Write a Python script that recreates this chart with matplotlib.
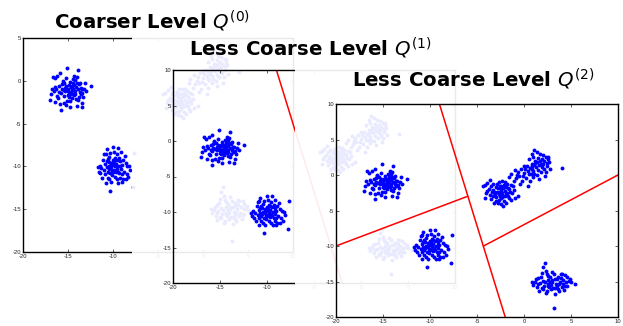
import numpy as np
import matplotlib
matplotlib.use("Agg")
import matplotlib.pyplot as plt
from matplotlib.patches import Rectangle

plt.rcParams["axes.unicode_minus"] = False
plt.rcParams["mathtext.fontset"] = "dejavusans"

# ---- point clusters (x, y) ----
cluster_a = [(-15.1, 1.5), (-13.9, 1.3), (-16.2, 0.6), (-15.9, 0.9), (-14.5, 0.2), (-14.2, 0.1),
             (-16.5, 0.3), (-15.6, -0.2), (-14.9, -0.5), (-14.0, -0.3), (-13.6, -0.8), (-12.5, -0.6),
             (-13.2, -1.0), (-15.3, -1.2), (-16.0, -1.3), (-16.9, -1.5), (-17.0, -2.2), (-15.8, -3.4),
             (-14.8, -3.1), (-13.5, -3.1), (-15.5, -2.6), (-14.6, -2.0), (-14.3, -1.7), (-13.8, -1.9),
             (-16.3, -1.0), (-15.0, -0.9), (-14.4, -1.1), (-15.2, -0.6), (-14.7, -1.5), (-13.4, -1.4),
             (-16.6, -1.2), (-15.4, -1.8), (-14.1, -0.7), (-13.9, -2.3), (-15.7, -0.4), (-14.9, -1.3),
             (-16.1, -2.0), (-13.7, -0.2), (-14.5, -0.9), (-15.1, -2.4), (-14.2, -1.6), (-15.9, -2.7),
             (-16.4, -0.7), (-13.3, -1.9), (-14.0, -2.9), (-15.6, 0.0), (-14.8, -0.1), (-15.3, -0.8),
             (-13.0, -1.2), (-16.8, -0.9), (-14.6, -1.0), (-15.0, -1.7), (-13.6, -1.6), (-14.3, -0.5),
             (-16.2, -1.8), (-15.5, -1.1), (-14.1, -2.1), (-13.8, -0.4), (-15.8, -1.4), (-14.4, -0.3),
             (-14.9, -1.9), (-15.2, -2.8), (-13.5, -0.9), (-16.0, -0.6), (-14.7, -1.3), (-13.1, -0.3),
             (-16.7, 0.5), (-14.0, 0.4), (-15.4, -0.3), (-14.6, -0.6), (-14.2, -1.2), (-13.9, -1.0),
             (-15.0, -1.2), (-14.5, -1.6), (-15.7, -1.0), (-14.8, -2.4), (-13.4, -2.6), (-16.4, -2.5),
             (-14.3, 0.6), (-15.2, 0.3), (-13.7, -1.3), (-14.7, -0.7)]

cluster_b = [(-10.3, -12.9), (-7.8, -12.4), (-7.7, -8.4), (-11.6, -10.6), (-10.0, -7.7), (-9.5, -7.8),
             (-9.1, -8.3), (-10.7, -8.0), (-11.0, -8.6), (-10.4, -8.9), (-9.8, -9.0), (-9.2, -9.4),
             (-8.6, -9.6), (-8.2, -10.0), (-8.8, -10.6), (-8.3, -11.2), (-9.0, -11.8), (-9.6, -11.5),
             (-10.1, -11.0), (-10.8, -11.9), (-11.2, -11.3), (-11.3, -10.2), (-10.9, -9.7), (-10.5, -9.5),
             (-10.2, -10.1), (-9.9, -10.4), (-9.4, -10.0), (-9.7, -9.7), (-10.0, -9.3), (-10.6, -10.6),
             (-9.3, -10.8), (-8.9, -9.2), (-9.6, -8.6), (-10.3, -10.8), (-9.1, -10.3), (-10.7, -10.1),
             (-9.8, -11.2), (-8.5, -10.9), (-11.5, -9.9), (-10.4, -11.5), (-9.2, -11.3), (-8.7, -8.8),
             (-10.9, -10.9), (-9.5, -9.3), (-10.1, -9.8), (-9.9, -8.3), (-11.1, -9.2), (-8.4, -9.9),
             (-10.6, -9.1), (-9.0, -9.8), (-9.7, -10.7), (-10.2, -11.8), (-11.4, -10.8), (-8.1, -10.4),
             (-10.5, -10.3), (-9.3, -9.0), (-9.8, -10.0), (-10.0, -10.6), (-9.4, -11.9), (-11.7, -10.1),
             (-8.6, -11.5), (-10.8, -8.5), (-10.2, -9.6), (-9.6, -10.3), (-10.4, -10.0), (-9.9, -9.6),
             (-10.1, -10.4), (-9.5, -10.6), (-10.7, -9.4), (-9.2, -9.9), (-10.3, -8.4), (-11.0, -10.4),
             (-9.0, -10.9), (-10.6, -11.3), (-8.9, -11.5), (-9.7, -9.2)]

cluster_c = [(-4.4, -1.5), (-4.2, -1.4), (-3.9, -1.1), (-3.6, -0.7), (-3.3, -1.3), (-3.7, -2.0),
             (-3.4, -2.4), (-3.9, -2.3), (-4.1, -3.2), (-3.5, -3.4), (-3.2, -3.9), (-3.0, -3.6),
             (-2.8, -4.0), (-2.4, -3.3), (-2.2, -4.4), (-1.9, -3.9), (-1.4, -3.5), (-1.0, -3.2),
             (-1.3, -2.6), (-1.6, -2.0), (-1.2, -1.6), (-1.8, -1.2), (-2.3, -0.9), (-2.7, -1.0),
             (-3.0, -1.7), (-2.6, -1.5), (-2.1, -1.4), (-2.5, -2.0), (-2.0, -2.2), (-2.9, -2.4),
             (-2.3, -2.6), (-1.7, -2.9), (-2.6, -2.9), (-3.1, -2.7), (-2.0, -3.0), (-2.7, -3.5),
             (-1.5, -2.4), (-2.2, -1.8), (-2.8, -1.9), (-3.3, -2.1), (-1.9, -1.7), (-2.4, -2.3),
             (-1.1, -2.1), (-0.6, -3.0), (-3.6, -2.8), (-2.5, -4.1), (-1.8, -2.5), (-2.1, -3.6),
             (-3.0, -3.1), (-1.4, -1.4), (-2.9, -1.3), (-3.5, -1.6), (-2.6, -2.4), (-2.0, -1.0),
             (-1.6, -3.3), (-4.0, -2.6), (-2.3, -3.1), (-3.2, -2.4), (-2.4, -1.6), (-1.9, -2.7),
             (-2.7, -2.7), (-3.3, -2.9), (-1.7, -1.9), (-2.2, -2.9)]

cluster_d = [(0.5, 2.2), (0.9, 2.9), (1.1, 3.5), (1.4, 3.2), (1.7, 2.9), (2.0, 2.8), (2.3, 2.5),
             (2.6, 2.6), (1.9, 2.2), (1.5, 2.4), (1.2, 2.0), (0.8, 1.6), (0.3, 1.3), (0.0, 1.2),
             (-0.3, 0.9), (-0.6, 0.4), (-1.0, 0.7), (-1.4, 0.2), (-1.6, -0.3), (-0.9, -0.4),
             (-0.5, -0.2), (0.0, 0.3), (0.4, 0.6), (0.7, 0.1), (1.0, 0.6), (1.3, 1.1), (1.6, 1.4),
             (2.0, 1.6), (2.4, 1.3), (2.7, 1.9), (2.1, 0.9), (1.8, 0.4), (1.4, 0.0), (1.0, -0.3),
             (0.6, -0.8), (0.2, -0.4), (-0.2, -0.9), (-0.4, -1.3), (-1.1, -0.8), (0.9, 1.2),
             (1.2, 1.7), (0.6, 1.0), (1.9, 1.1), (1.5, 0.7), (2.3, 0.4), (0.1, 0.8), (1.7, 2.0),
             (2.5, 2.2), (1.1, 0.2), (-0.7, 0.0), (4.0, 1.0), (2.8, 0.8), (0.4, -1.5), (2.2, -0.2),
             (1.0, 2.5), (1.6, -0.6), (-0.1, -0.1), (0.8, 0.8), (1.4, 1.9), (2.1, 2.0), (1.8, 1.5),
             (1.1, 1.4), (0.5, 0.2), (2.4, 1.7)]

cluster_e = [(2.2, -12.4), (2.0, -13.0), (2.3, -13.5), (3.0, -13.6), (1.9, -13.8), (1.5, -14.5),
             (1.3, -14.7), (0.9, -15.0), (1.0, -15.5), (1.4, -15.8), (1.6, -16.3), (2.0, -16.0),
             (2.4, -16.4), (2.9, -16.1), (3.3, -16.7), (3.6, -16.1), (4.0, -15.8), (4.3, -16.2),
             (4.6, -15.6), (5.0, -15.1), (5.4, -15.3), (4.9, -14.6), (4.4, -14.1), (4.0, -14.0),
             (3.6, -14.3), (3.2, -14.0), (2.8, -14.4), (2.5, -14.8), (2.2, -15.1), (2.6, -15.4),
             (3.0, -15.0), (3.4, -15.3), (3.8, -15.0), (4.2, -14.8), (3.5, -15.7), (3.1, -15.9),
             (2.7, -15.8), (2.0, -14.9), (1.7, -15.2), (1.8, -14.3), (4.5, -15.0), (3.9, -14.5),
             (2.4, -13.9), (3.3, -14.7), (2.9, -15.5), (4.1, -15.4), (1.2, -15.1), (2.1, -15.6),
             (4.8, -14.9), (3.7, -16.4), (3.2, -18.7), (2.6, -14.2), (3.9, -13.9), (1.5, -15.4),
             (4.4, -15.7), (2.3, -16.6), (3.0, -14.8), (3.5, -14.6), (2.8, -15.1), (3.7, -15.4),
             (2.5, -15.6), (4.6, -14.4), (3.3, -15.9), (1.9, -15.9)]

# ---- partition boundaries ----
split_1_x, split_1_y = [-9.0, -2.0], [10.0, -20.0]
split_2_x, split_2_y = [-20.0, -6.0], [-10.0, -3.0]
split_3_x, split_3_y = [-4.3, 10.0], [-10.0, 0.0]

titles = ["Coarser Level $Q^{(0)}$", "Less Coarse Level $Q^{(1)}$", "Less Coarse Level $Q^{(2)}$"]
xticks = [-20, -15, -10, -5, 0, 5, 10]
yticks_0 = [-20, -15, -10, -5, 0, 5]
yticks_12 = [-20, -15, -10, -5, 0, 5, 10]

points = np.array(cluster_a + cluster_b + cluster_c + cluster_d + cluster_e)

W, H = 623, 326
fig = plt.figure(figsize=(W / 100, H / 100), dpi=100)
fig.patch.set_facecolor("white")


def box(l, t, r, b):
    return [l / W, 1 - b / H, (r - l) / W, (b - t) / H]


def panel(rect, ylim, yticks, z, face):
    ax = fig.add_axes(rect)
    ax.set_zorder(z)
    ax.set_facecolor(face)
    ax.plot(points[:, 0], points[:, 1], "o", color="#0000ff", markersize=2.8,
            markeredgewidth=0)
    ax.set_xlim(-20, 10)
    ax.set_ylim(*ylim)
    ax.set_xticks(xticks)
    ax.set_yticks(yticks)
    ax.tick_params(direction="in", length=2.5, width=0.5, top=True, right=True,
                   labelsize=4.2, pad=1.5, colors="#222222")
    for lab in ax.get_xticklabels() + ax.get_yticklabels():
        lab.set_fontfamily("Liberation Sans")
    for s in ax.spines.values():
        s.set_linewidth(1.0)
        s.set_color("black")
    return ax


def cover(l, t, r, b, z):
    fig.patches.append(Rectangle((l / W, 1 - b / H), (r - l) / W, (b - t) / H,
                                 transform=fig.transFigure, facecolor="white",
                                 alpha=0.92, edgecolor="none", zorder=z))


title_kw = dict(ha="center", va="baseline", fontsize=14.2, fontweight="bold",
                fontfamily="DejaVu Sans")

# panel 0
ax0 = panel(box(23, 38, 293, 252), (-20, 5), yticks_0, 1, "white")
fig.text(152 / W, 1 - 29 / H, titles[0], zorder=1.5, **title_kw)

# panel 1
cover(132, 35, 470, 300, 2)
ax1 = panel(box(173, 70, 455, 283), (-20, 10), yticks_12, 3, "none")
ax1.plot(split_1_x, split_1_y, color="red", linewidth=1.1)
fig.text(310 / W, 1 - 56 / H, titles[1], zorder=3.5, **title_kw)

# panel 2
cover(295, 62, 623, 326, 4)
ax2 = panel(box(336, 104, 618, 317), (-20, 10), yticks_12, 5, "none")
for sx, sy in [(split_1_x, split_1_y), (split_2_x, split_2_y), (split_3_x, split_3_y)]:
    ax2.plot(sx, sy, color="red", linewidth=1.1)
fig.text(473 / W, 1 - 87 / H, titles[2], zorder=5.5, **title_kw)

fig.savefig("out.png", dpi=100)
